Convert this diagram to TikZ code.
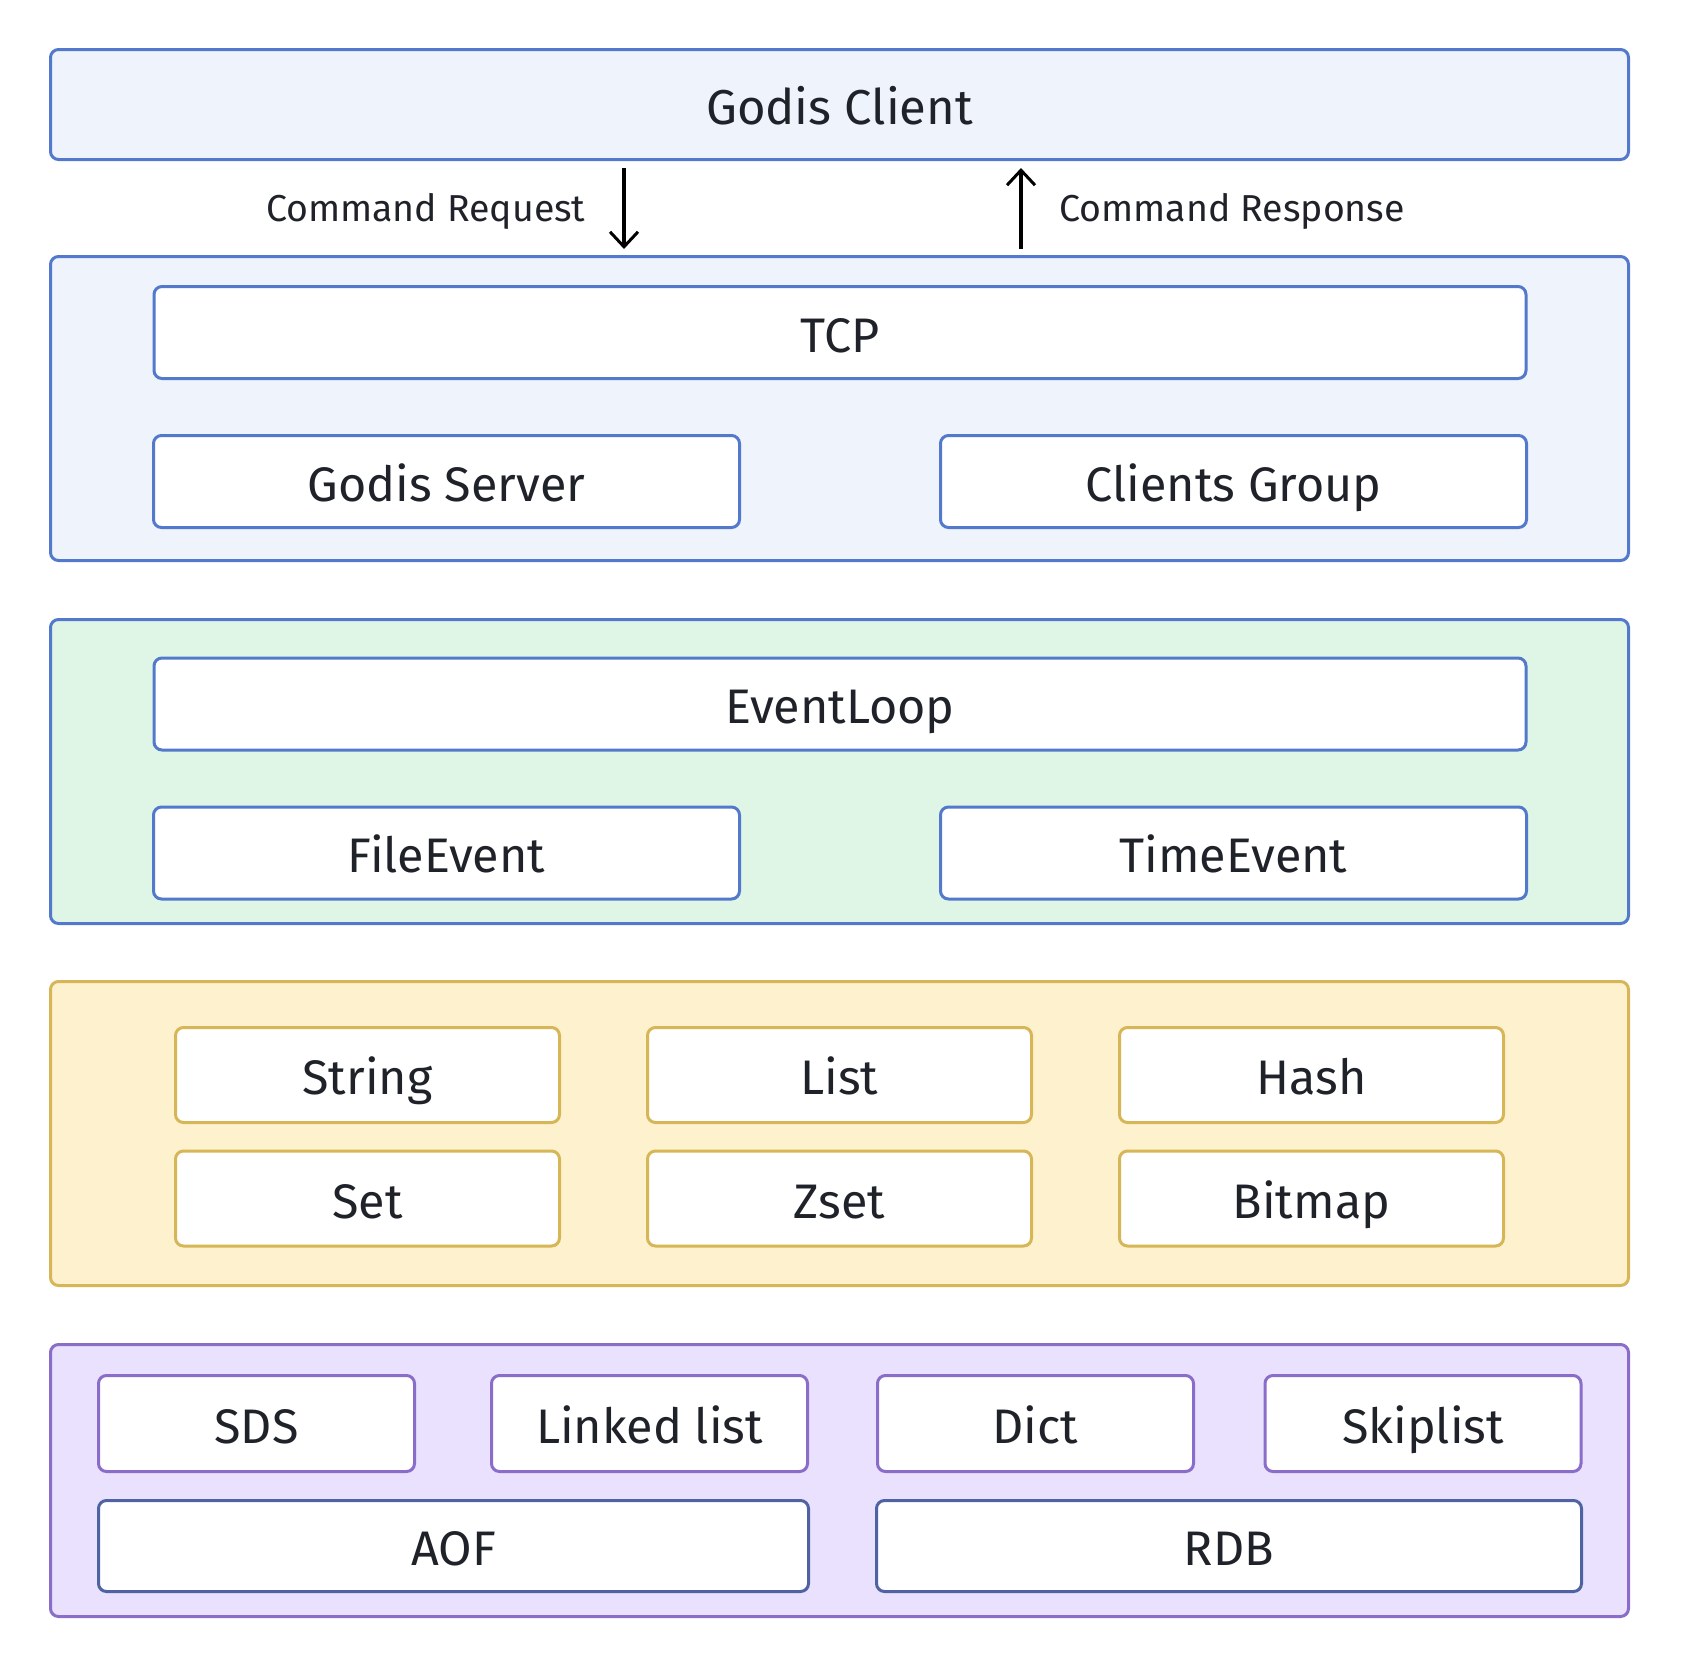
\documentclass[tikz,border=0pt]{standalone}
\usepackage{fontspec}
\setmainfont{Fira Sans}
\usetikzlibrary{arrows.meta}

\definecolor{ink}{HTML}{1F2329}
\definecolor{blueline}{HTML}{5279CC}
\definecolor{bluefill}{HTML}{EEF3FC}
\definecolor{greenfill}{HTML}{DFF5E6}
\definecolor{goldline}{HTML}{D6B656}
\definecolor{goldfill}{HTML}{FDF1CE}
\definecolor{violetline}{HTML}{8A6DC8}
\definecolor{violetfill}{HTML}{E9E1FD}
\definecolor{navyline}{HTML}{4F63A2}

\tikzset{
  layer/.style={draw=#1, line width=3pt, rounded corners=8pt, text=ink,
    minimum width=1578pt, text height=45pt, text depth=6pt,
    font=\fontsize{49}{56}\selectfont},
  item/.style={draw=#1, fill=white, line width=3pt, rounded corners=8pt, text=ink,
    text height=45pt, text depth=6pt, font=\fontsize{48.5}{56}\selectfont},
  flow/.style={line width=3.2pt, -{Straight Barb[length=15pt,width=28pt,line width=3pt]}},
  note/.style={text=ink, font=\fontsize{37.5}{42}\selectfont},
}

\begin{document}
\begin{tikzpicture}[x=1pt, y=-1pt]
  \useasboundingbox (0,0) rectangle (1682,1668);

  % client layer
  \node[layer=blueline, fill=bluefill, minimum height=110pt] (client) at (839.5,104.5) {Godis Client};

  % server layer
  \node[layer=blueline, fill=bluefill, minimum height=304pt] (server) at (839.5,408.5) {};
  \node[item=blueline, minimum width=1372pt, minimum height=92pt] (tcp) at (840,332.5) {TCP};
  \node[item=blueline, minimum width=586pt, minimum height=92pt] (gserver) at (446.5,481.5) {Godis Server};
  \node[item=blueline, minimum width=586pt, minimum height=92pt] (cgroup) at (1233.5,481.5) {Clients Group};

  % request / response
  \coordinate (reqtop) at (624,168);
  \coordinate (reqend) at (624,249);
  \coordinate (resbot) at (1021,249);
  \coordinate (resend) at (1021,168);
  \draw[flow] (reqtop) -- (reqend);
  \draw[flow] (resbot) -- (resend);
  \node[note, anchor=base east] (req) at (589,221) {Command Request};
  \node[note, anchor=base west] (res) at (1056,221) {Command Response};

  % event layer
  \node[layer=blueline, fill=greenfill, minimum height=304pt] (event) at (839.5,771.5) {};
  \node[item=blueline, minimum width=1372pt, minimum height=92pt] (loop) at (840,704) {EventLoop};
  \node[item=blueline, minimum width=586pt, minimum height=92pt] (fileev) at (446.5,853) {FileEvent};
  \node[item=blueline, minimum width=586pt, minimum height=92pt] (timeev) at (1233.5,853) {TimeEvent};

  % data types layer
  \node[layer=goldline, fill=goldfill, minimum height=304pt] (types) at (839.5,1133.5) {};
  \foreach \name/\txt/\cx/\cy in {string/String/367.5/1075, list/List/839.5/1075, hash/Hash/1311.5/1075,
                                  set/Set/367.5/1198.5, zset/Zset/839.5/1198.5, bitmap/Bitmap/1311.5/1198.5}
    \node[item=goldline, minimum width=384pt, minimum height=95pt] (\name) at (\cx,\cy) {\txt};

  % storage layer
  \node[layer=violetline, fill=violetfill, minimum height=272pt] (store) at (839.5,1480.5) {};
  \foreach \name/\txt/\cx in {sds/SDS/256.5, llist/Linked list/649.5, dict/Dict/1035.5, skip/Skiplist/1423}
    \node[item=violetline, minimum width=316pt, minimum height=96pt] (\name) at (\cx,1423.5) {\txt};
  \node[item=navyline, minimum width=710pt, minimum height=91pt] (aof) at (453.5,1546) {AOF};
  \node[item=navyline, minimum width=705pt, minimum height=91pt] (rdb) at (1229,1546) {RDB};
\end{tikzpicture}
\end{document}
